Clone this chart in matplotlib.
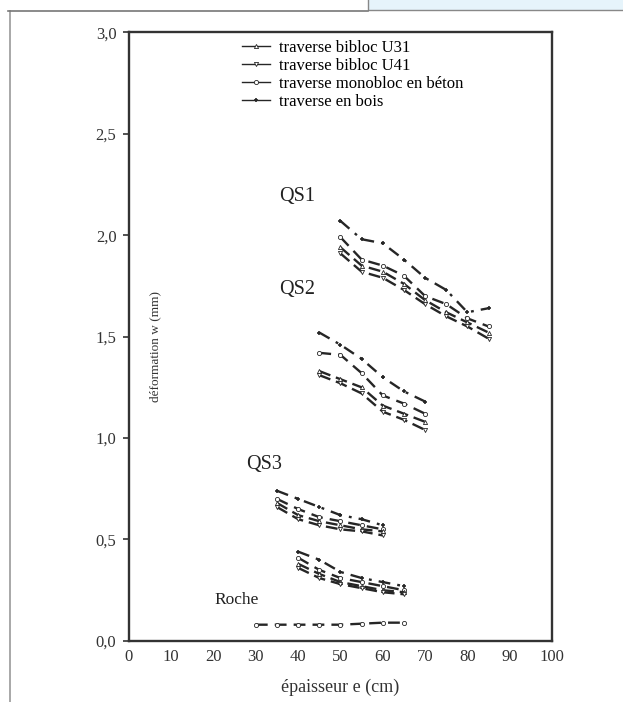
import numpy as np
import matplotlib
matplotlib.use('Agg')
import matplotlib.pyplot as plt
from matplotlib.lines import Line2D
from matplotlib.patches import Rectangle

plt.rcParams['font.family'] = ['Liberation Serif', 'DejaVu Serif']

# QS1
x_qs1 = [50, 55, 60, 65, 70, 75, 80, 85]
qs1_u31 = [1.94, 1.85, 1.82, 1.76, 1.68, 1.62, 1.57, 1.52]
qs1_u41 = [1.91, 1.82, 1.79, 1.73, 1.66, 1.60, 1.55, 1.49]
qs1_beton = [1.99, 1.88, 1.85, 1.80, 1.70, 1.66, 1.59, 1.55]
qs1_bois = [2.07, 1.98, 1.96, 1.88, 1.79, 1.73, 1.62, 1.64]
# QS2
x_qs2 = [45, 50, 55, 60, 65, 70]
qs2_u31 = [1.33, 1.29, 1.25, 1.16, 1.12, 1.08]
qs2_u41 = [1.31, 1.27, 1.22, 1.13, 1.09, 1.04]
qs2_beton = [1.42, 1.41, 1.32, 1.21, 1.17, 1.12]
qs2_bois = [1.52, 1.46, 1.39, 1.30, 1.23, 1.18]
# QS3
x_qs3 = [35, 40, 45, 50, 55, 60]
qs3_u31 = [0.68, 0.62, 0.59, 0.57, 0.55, 0.54]
qs3_u41 = [0.66, 0.60, 0.57, 0.55, 0.54, 0.52]
qs3_beton = [0.70, 0.65, 0.61, 0.59, 0.57, 0.55]
qs3_bois = [0.74, 0.70, 0.66, 0.62, 0.60, 0.57]
# groupe sans nom (QS4 ?)
x_qs4 = [40, 45, 50, 55, 60, 65]
qs4_u31 = [0.38, 0.33, 0.29, 0.27, 0.25, 0.24]
qs4_u41 = [0.36, 0.31, 0.28, 0.26, 0.24, 0.23]
qs4_beton = [0.41, 0.35, 0.31, 0.29, 0.27, 0.25]
qs4_bois = [0.44, 0.40, 0.34, 0.31, 0.29, 0.27]
# Roche
x_roche = [30, 35, 40, 45, 50, 55, 60, 65]
roche_beton = [0.08, 0.08, 0.08, 0.08, 0.08, 0.085, 0.09, 0.09]

y_ticks = [0.0, 0.5, 1.0, 1.5, 2.0, 2.5, 3.0]
x_ticks = [0, 10, 20, 30, 40, 50, 60, 70, 80, 90, 100]

col = '#262626'
st_u31 = dict(color=col, lw=1.7, ls=(0, (5, 2.5)), marker='^', ms=3, mfc='white', mew=0.6)
st_u41 = dict(color=col, lw=1.7, ls=(0, (5, 2.5)), marker='v', ms=3, mfc='white', mew=0.6)
st_beton = dict(color=col, lw=1.7, ls=(0, (5, 3)), marker='o', ms=3, mfc='white', mew=0.6)
st_bois = dict(color=col, lw=1.7, ls=(0, (5, 3, 1.2, 3)), marker='+', ms=3, mew=1.2)

fig = plt.figure(figsize=(6.23, 7.02), dpi=100)
ax = fig.add_axes([0.207, 0.087, 0.679, 0.867])

groups = [(x_qs1, qs1_u31, qs1_u41, qs1_beton, qs1_bois),
          (x_qs2, qs2_u31, qs2_u41, qs2_beton, qs2_bois),
          (x_qs3, qs3_u31, qs3_u41, qs3_beton, qs3_bois),
          (x_qs4, qs4_u31, qs4_u41, qs4_beton, qs4_bois)]
for xs, a, b, c, d in groups:
    ax.plot(xs, d, **st_bois)
    ax.plot(xs, c, **st_beton)
    ax.plot(xs, a, **st_u31)
    ax.plot(xs, b, **st_u41)
ax.plot(x_roche, roche_beton, **st_beton)

ax.set_xlim(0, 100)
ax.set_ylim(0, 3.0)
ax.set_yticks(y_ticks)
ax.set_yticklabels([('%.1f' % v).replace('.', ',') for v in y_ticks])
ax.set_xticks(x_ticks)
ax.set_xticklabels([str(v) for v in x_ticks])
ax.tick_params(axis='y', direction='out', length=4, width=1.2, colors='#333', labelsize=12, pad=5)
ax.tick_params(axis='x', length=0, colors='#333', labelsize=12, pad=6)
for sp in ax.spines.values():
    sp.set_linewidth(1.7)
    sp.set_color('#333')

ax.set_xlabel('épaisseur e (cm)', fontsize=13, color='#333', labelpad=10)
ax.text(6.2, 1.45, 'déformation w (mm)', rotation=90, ha='center', va='center', fontsize=9.5, color='#333')

ax.text(39.7, 2.19, 'QS1', fontsize=14.5, ha='center', va='center', color='#222')
ax.text(39.7, 1.73, 'QS2', fontsize=14.5, ha='center', va='center', color='#222')
ax.text(32, 0.87, 'QS3', fontsize=14.5, ha='center', va='center', color='#222')
ax.text(25.5, 0.20, 'Roche', fontsize=12.5, ha='center', va='center', color='#222')

handles = [Line2D([], [], **st_u31), Line2D([], [], **st_u41),
           Line2D([], [], **st_beton), Line2D([], [], **st_bois)]
for h in handles:
    h.set_linewidth(1.0)
    h.set_linestyle('-')
labels = ['traverse bibloc U31', 'traverse bibloc U41',
          'traverse monobloc en béton', 'traverse en bois']
ax.legend(handles, labels, loc='upper left', bbox_to_anchor=(0.24, 1.007), frameon=False,
          fontsize=12, handlelength=1.7, handletextpad=0.5, labelspacing=0.12,
          borderaxespad=0.3)

# cadre de la page scannée
fig.add_artist(Line2D([0.016, 0.016], [0.0, 0.984], color='#999', lw=1.2))
fig.add_artist(Line2D([0.013, 0.59], [0.984, 0.984], color='#777', lw=1.2))
fig.add_artist(Rectangle((0.59, 0.986), 0.42, 0.02, facecolor='#e6f4fb', edgecolor='#888', lw=1.0))

fig.savefig('out.png', dpi=100)
